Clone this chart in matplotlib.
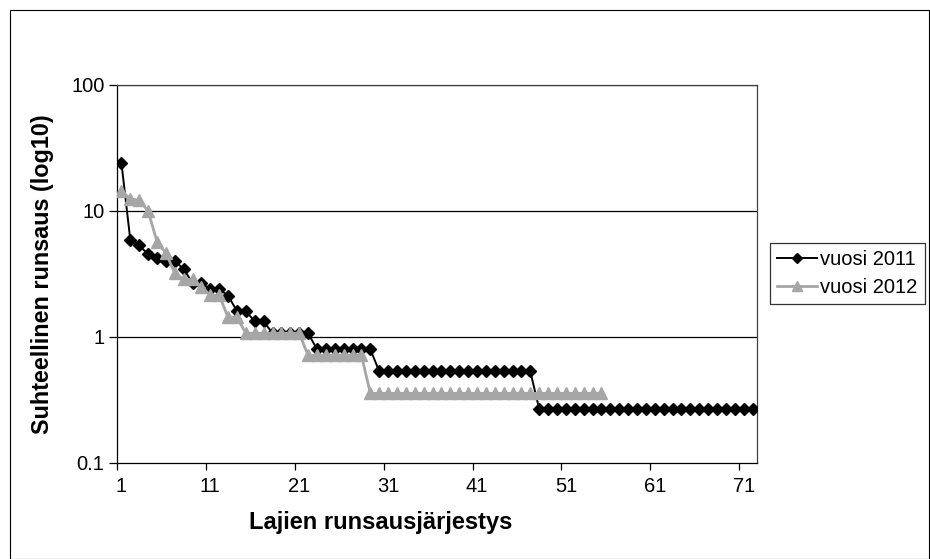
import matplotlib
matplotlib.use("Agg")
import matplotlib.pyplot as plt
from matplotlib.patches import Rectangle
from matplotlib.lines import Line2D

plt.rcParams['font.family'] = ['Liberation Sans', 'DejaVu Sans']

# Relative abundance (%) by rank
vuosi_2011 = [24.0, 5.87, 5.33, 4.53, 4.27, 4.0, 4.0, 3.47, 2.67, 2.67,
              2.4, 2.4, 2.13, 1.6, 1.6, 1.33, 1.33, 1.07, 1.07, 1.07,
              1.07, 1.07, 0.8, 0.8, 0.8, 0.8, 0.8, 0.8, 0.8,
              0.533, 0.533, 0.533, 0.533, 0.533, 0.533, 0.533, 0.533, 0.533,
              0.533, 0.533, 0.533, 0.533, 0.533, 0.533, 0.533, 0.533, 0.533,
              0.267, 0.267, 0.267, 0.267, 0.267, 0.267, 0.267, 0.267, 0.267,
              0.267, 0.267, 0.267, 0.267, 0.267, 0.267, 0.267, 0.267, 0.267,
              0.267, 0.267, 0.267, 0.267, 0.267, 0.267, 0.267]
vuosi_2012 = [14.29, 12.5, 12.14, 10.0, 5.71, 4.64, 3.21, 2.86, 2.86, 2.5,
              2.14, 2.14, 1.43, 1.43, 1.07, 1.07, 1.07, 1.07, 1.07, 1.07,
              1.07, 0.714, 0.714, 0.714, 0.714, 0.714, 0.714, 0.714,
              0.357, 0.357, 0.357, 0.357, 0.357, 0.357, 0.357, 0.357, 0.357,
              0.357, 0.357, 0.357, 0.357, 0.357, 0.357, 0.357, 0.357, 0.357,
              0.357, 0.357, 0.357, 0.357, 0.357, 0.357, 0.357, 0.357, 0.357]
series_labels = ["vuosi 2011", "vuosi 2012"]
x_tick_labels = ["1", "11", "21", "31", "41", "51", "61", "71"]
y_ticks = [0.1, 1, 10, 100]
y_tick_labels = ["0.1", "1", "10", "100"]
n_categories = 72

W, H = 930, 559
fig = plt.figure(figsize=(W / 100, H / 100), dpi=100)
fig.patches.append(Rectangle((9.5 / W, 0.5 / H), (919 / W), (549 / H),
                             transform=fig.transFigure, fill=False,
                             edgecolor='#000000', linewidth=0.8))

L, R, T, B = 117, 757, 85, 463
ax = fig.add_axes([L / W, 1 - B / H, (R - L) / W, (B - T) / H])

GRAY = '#A6A6A6'
x11 = list(range(1, len(vuosi_2011) + 1))
x12 = list(range(1, len(vuosi_2012) + 1))
ax.plot(x11, vuosi_2011, color='black', lw=1.4, marker='D', ms=6,
        markeredgecolor='black', markerfacecolor='black', label=series_labels[0],
        zorder=3)
ax.plot(x12, vuosi_2012, color=GRAY, lw=2.0, marker='^', ms=8,
        markeredgecolor=GRAY, markerfacecolor=GRAY, label=series_labels[1],
        zorder=4)

ax.set_yscale('log')
ax.set_ylim(0.1, 100)
ax.set_xlim(0.5, n_categories + 0.5)
ax.set_yticks(y_ticks)
ax.set_yticklabels(y_tick_labels)
ax.yaxis.set_minor_locator(matplotlib.ticker.NullLocator())
for yv in [1, 10, 100]:
    ax.axhline(yv, color='#000000', lw=0.9, zorder=1)

label_pos = [int(s) for s in x_tick_labels]
ax.set_xticks(label_pos)
ax.set_xticklabels(x_tick_labels)
ax.tick_params(axis='x', length=0, pad=10, labelsize=14.5)
ax.set_xticks([p - 0.5 for p in label_pos], minor=True)
ax.tick_params(axis='x', which='minor', length=5, width=0.9, color='#000000',
               direction='out')
ax.tick_params(axis='y', length=6, width=0.9, direction='out', pad=3,
               labelsize=14.5)

for s in ['left', 'bottom']:
    ax.spines[s].set_color('#000000')
    ax.spines[s].set_linewidth(0.9)
for s in ['right', 'top']:
    ax.spines[s].set_color('#404040')
    ax.spines[s].set_linewidth(0.9)

fig.text(43 / W, 1 - 274 / H, "Suhteellinen runsaus (log10)", rotation=90,
         ha='center', va='center', fontsize=16.8, fontweight='bold')
fig.text(381 / W, 1 - 523 / H, "Lajien runsausjärjestys", ha='center',
         va='center', fontsize=17, fontweight='bold')

handles = [Line2D([], [], color='black', lw=1.4, marker='D', ms=5.5),
           Line2D([], [], color=GRAY, lw=2.0, marker='^', ms=7.5)]
leg = fig.legend(handles, series_labels, loc='upper left',
                 bbox_to_anchor=(770 / W, 1 - 243 / H), frameon=True,
                 fancybox=False, edgecolor='black', fontsize=14.5,
                 handlelength=2.0, handletextpad=0.15, borderpad=0.35,
                 labelspacing=0.45, borderaxespad=0)
leg.get_frame().set_linewidth(0.9)

fig.savefig("out.png", dpi=100)
